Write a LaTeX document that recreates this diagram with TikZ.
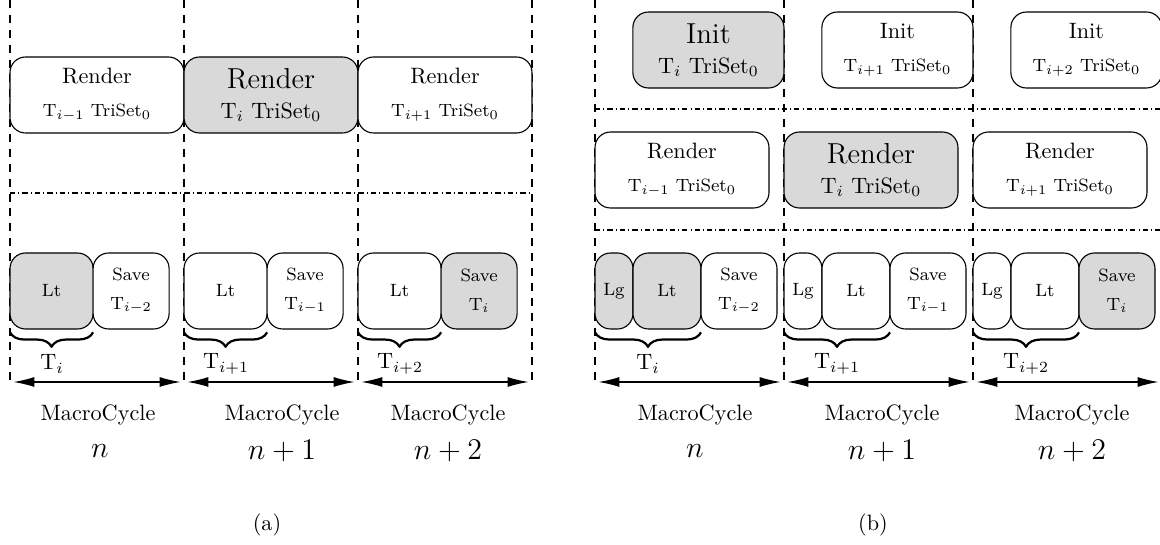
\RequirePackage{fix-cm}
\documentclass[tikz,border=0pt]{standalone}
\usepackage{fontspec}
\usetikzlibrary{positioning,arrows.meta,decorations.pathreplacing}

\definecolor{busygray}{HTML}{D9D9D9}

\begin{document}
\begin{tikzpicture}[
  x={(0.45pt,0pt)},
  y={(0pt,-0.45pt)},
  line join=round,
  stage/.style={draw=black,line width=0.5pt,fill=white,rounded corners=7pt,
    inner sep=0pt,outer sep=0pt,align=center},
  busy/.style={fill=busygray},
  renderbox/.style={stage,minimum width=78.3pt,minimum height=34.2pt},
  initbox/.style={stage,minimum width=68pt,minimum height=34.2pt},
  ltwide/.style={stage,minimum width=37.4pt,minimum height=34.2pt,font=\footnotesize},
  ltnarrow/.style={stage,minimum width=30.6pt,minimum height=34.2pt,font=\footnotesize},
  lgbox/.style={stage,minimum width=17.1pt,minimum height=34.2pt,font=\footnotesize},
  savestage/.style={stage,minimum width=34.2pt,minimum height=34.2pt,font=\footnotesize},
  colline/.style={draw=black,line width=0.5pt,dash pattern=on 3.6pt off 3.1pt},
  bandline/.style={draw=black,line width=0.5pt,
    dash pattern=on 2.4pt off 1.4pt on 0.4pt off 1.4pt},
  macroarrow/.style={draw=black,line width=0.6pt,
    {Latex[length=9.5pt,width=4.5pt]}-{Latex[length=9.5pt,width=4.5pt]}},
  tbrace/.style={draw=black,line width=1pt,decorate,
    decoration={brace,mirror,amplitude=6.5pt}},
  cyclenum/.style={font=\fontsize{13.5}{16}\selectfont}
]
  \useasboundingbox (0,0) rectangle (1160,545);

  % Panel (a): column boundaries and band.
  \foreach \x in {10,184,358,532} {
    \draw[colline] (\x,0) -- (\x,380);
  }
  \draw[bandline] (10,193) -- (532,193);

  % Panel (a): render stage.
  \node[renderbox,anchor=north west] (ra1) at (10,57)
    {Render\\[2.8pt]\footnotesize T$_{i-1}$ TriSet$_0$};
  \node[renderbox,busy,right=0pt of ra1] (ra2)
    {\fontsize{13}{15}\selectfont Render\\[1.5pt]\normalsize T$_i$ TriSet$_0$};
  \node[renderbox,right=0pt of ra2] (ra3)
    {Render\\[2.8pt]\footnotesize T$_{i+1}$ TriSet$_0$};

  % Panel (a): lighting and save stages.
  \node[ltwide,busy,anchor=north west] (lta1) at (10,253) {Lt};
  \node[savestage,right=0pt of lta1] (sva1) {Save\\[3.2pt]T$_{i-2}$};
  \node[ltwide,anchor=north west] (lta2) at (184,253) {Lt};
  \node[savestage,right=0pt of lta2] (sva2) {Save\\[3.2pt]T$_{i-1}$};
  \node[ltwide,anchor=north west] (lta3) at (358,253) {Lt};
  \node[savestage,busy,right=0pt of lta3] (sva3) {Save\\[3.2pt]T$_i$};

  \draw[tbrace] ([yshift=-1.5pt]lta1.south west) -- ([yshift=-1.5pt]lta1.south east);
  \draw[tbrace] ([yshift=-1.5pt]lta2.south west) -- ([yshift=-1.5pt]lta2.south east);
  \draw[tbrace] ([yshift=-1.5pt]lta3.south west) -- ([yshift=-1.5pt]lta3.south east);
  \node (tia1) at (52,364) {T$_i$};
  \node (tia2) at (226,364) {T$_{i+1}$};
  \node (tia3) at (400,364) {T$_{i+2}$};

  % Panel (a): macro cycles.
  \coordinate (pa0) at (10,382);
  \coordinate (pa1) at (184,382);
  \coordinate (pa2) at (358,382);
  \coordinate (pa3) at (532,382);
  \draw[macroarrow] ([xshift=1.5pt]pa0) -- ([xshift=-1.5pt]pa1);
  \draw[macroarrow] ([xshift=1.5pt]pa1) -- ([xshift=-1.5pt]pa2);
  \draw[macroarrow] ([xshift=1.5pt]pa2) -- ([xshift=-1.5pt]pa3);
  \node (mca1) at (98,415) {MacroCycle};
  \node (mca2) at (282,415) {MacroCycle};
  \node (mca3) at (448,415) {MacroCycle};
  \node[cyclenum] (nna1) at (100,451) {$n$};
  \node[cyclenum] (nna2) at (282,451) {$n+1$};
  \node[cyclenum] (nna3) at (448,451) {$n+2$};
  \node (capa) at (267,525) {(a)};

  % Panel (b): column boundaries and bands.
  \foreach \x in {595,784,973} {
    \draw[colline] (\x,0) -- (\x,380);
  }
  \draw[bandline] (595,109) -- (1162,109);
  \draw[bandline] (595,230) -- (1162,230);

  % Panel (b): init stage.
  \node[initbox,busy,anchor=north east] (ib1) at (784,12)
    {\fontsize{13}{15}\selectfont Init\\[1.5pt]\normalsize T$_i$ TriSet$_0$};
  \node[initbox,anchor=north east] (ib2) at (973,12)
    {Init\\[2.8pt]\footnotesize T$_{i+1}$ TriSet$_0$};
  \node[initbox,anchor=north east] (ib3) at (1162,12)
    {Init\\[2.8pt]\footnotesize T$_{i+2}$ TriSet$_0$};

  % Panel (b): render stage.
  \node[renderbox,anchor=north west] (rb1) at (595,132)
    {Render\\[2.8pt]\footnotesize T$_{i-1}$ TriSet$_0$};
  \node[renderbox,busy,anchor=north west] (rb2) at (784,132)
    {\fontsize{13}{15}\selectfont Render\\[1.5pt]\normalsize T$_i$ TriSet$_0$};
  \node[renderbox,anchor=north west] (rb3) at (973,132)
    {Render\\[2.8pt]\footnotesize T$_{i+1}$ TriSet$_0$};

  % Panel (b): global and local lighting, save stages.
  \node[lgbox,busy,anchor=north west] (lgb1) at (595,253) {Lg};
  \node[ltnarrow,busy,right=0pt of lgb1] (ltb1) {Lt};
  \node[savestage,right=0pt of ltb1] (svb1) {Save\\[3.2pt]T$_{i-2}$};
  \node[lgbox,anchor=north west] (lgb2) at (784,253) {Lg};
  \node[ltnarrow,right=0pt of lgb2] (ltb2) {Lt};
  \node[savestage,right=0pt of ltb2] (svb2) {Save\\[3.2pt]T$_{i-1}$};
  \node[lgbox,anchor=north west] (lgb3) at (973,253) {Lg};
  \node[ltnarrow,right=0pt of lgb3] (ltb3) {Lt};
  \node[savestage,busy,right=0pt of ltb3] (svb3) {Save\\[3.2pt]T$_i$};

  \draw[tbrace] ([yshift=-1.5pt]lgb1.south west) -- ([yshift=-1.5pt]ltb1.south east);
  \draw[tbrace] ([yshift=-1.5pt]lgb2.south west) -- ([yshift=-1.5pt]ltb2.south east);
  \draw[tbrace] ([yshift=-1.5pt]lgb3.south west) -- ([yshift=-1.5pt]ltb3.south east);
  \node (tib1) at (648,364) {T$_i$};
  \node (tib2) at (837,364) {T$_{i+1}$};
  \node (tib3) at (1026,364) {T$_{i+2}$};

  % Panel (b): macro cycles.
  \coordinate (pb0) at (595,382);
  \coordinate (pb1) at (784,382);
  \coordinate (pb2) at (973,382);
  \coordinate (pb3) at (1162,382);
  \draw[macroarrow] ([xshift=1.5pt]pb0) -- ([xshift=-1.5pt]pb1);
  \draw[macroarrow] ([xshift=1.5pt]pb1) -- ([xshift=-1.5pt]pb2);
  \draw[macroarrow] ([xshift=1.5pt]pb2) -- ([xshift=-1.5pt]pb3);
  \node (mcb1) at (695,415) {MacroCycle};
  \node (mcb2) at (882,415) {MacroCycle};
  \node (mcb3) at (1072,415) {MacroCycle};
  \node[cyclenum] (nnb1) at (695,451) {$n$};
  \node[cyclenum] (nnb2) at (882,451) {$n+1$};
  \node[cyclenum] (nnb3) at (1072,451) {$n+2$};
  \node (capb) at (873,525) {(b)};
\end{tikzpicture}
\end{document}
